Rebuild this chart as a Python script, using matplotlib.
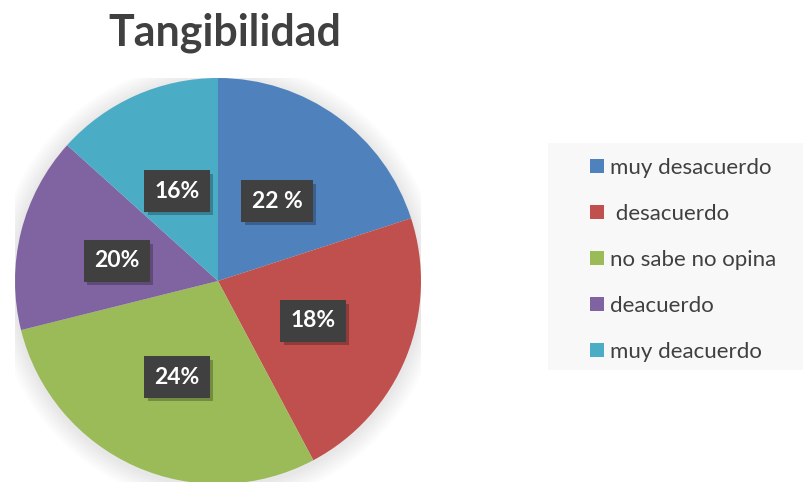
import matplotlib
matplotlib.use("Agg")
import matplotlib.pyplot as plt
from matplotlib.patches import Patch, Circle, Rectangle
import matplotlib.patheffects as pe

categories = ["muy desacuerdo", " desacuerdo", "no sabe no opina", "deacuerdo", "muy deacuerdo"]
counts = [9, 10, 13, 7, 6]
pct_labels = ["22 %", "18%", "24%", "20%", "16%"]
colors = ["#4f81bd", "#c0504d", "#9bbb59", "#8064a2", "#4bacc6"]
label_pos = [(0.291, 0.394), (0.468, -0.197), (-0.202, -0.473), (-0.498, 0.099), (-0.202, 0.443)]

plt.rcParams['font.family'] = ['Lato', 'DejaVu Sans']
W, H = 804, 482
fig = plt.figure(figsize=(W/100, H/100), dpi=100)
fig.patch.set_facecolor("white")

cx, cy, r = 218, 281, 203
ax = fig.add_axes([(cx - r)/W, (H - cy - r)/H, 2*r/W, 2*r/H])

# soft shadow
for i in range(8):
    ax.add_patch(Circle((0.0, -0.01), 1.0 + 0.012*(8-i), color='black', alpha=0.012, lw=0, zorder=0))

wedges, _ = ax.pie(counts, colors=colors, startangle=90, counterclock=False, radius=1.0,
                   wedgeprops=dict(linewidth=0), center=(0, 0), frame=True)
ax.set_xlim(-1, 1); ax.set_ylim(-1, 1); ax.set_aspect('equal'); ax.axis('off')

for txt, (x, y) in zip(pct_labels, label_pos):
    t = ax.text(x, y, txt, ha='center', va='center', fontsize=16.5, fontweight='bold', color='white',
                bbox=dict(boxstyle='square,pad=0.45', fc='#404040', ec='none'), zorder=5)
    t.get_bbox_patch().set_path_effects([pe.SimplePatchShadow(offset=(2.5, -2.5), shadow_rgbFace='black', alpha=0.25), pe.Normal()])

fig.text(225/W, 1 - 33/H, "Tangibilidad", ha='center', va='center', fontsize=31, fontweight='bold', color='#404040')

# legend background
fig.patches.append(Rectangle((548/W, 1 - 370/H), (W - 548)/W, 227/H, transform=fig.transFigure,
                             facecolor='#f8f8f8', edgecolor='none', zorder=0))
handles = [Patch(facecolor=c, edgecolor='none') for c in colors]
leg = fig.legend(handles, categories, loc='upper left', bbox_to_anchor=(590/W, 1 - 158/H),
                 frameon=False, fontsize=16, labelspacing=1.17, handlelength=0.62, handleheight=0.62,
                 handletextpad=0.3, borderpad=0, borderaxespad=0)
for t in leg.get_texts():
    t.set_color('#404040')

fig.savefig("out.png", dpi=100)
